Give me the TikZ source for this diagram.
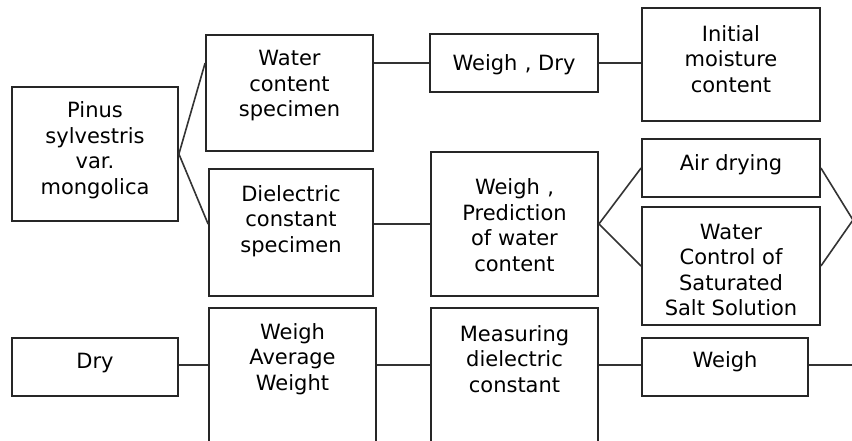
\documentclass[tikz,border=0pt]{standalone}
\usepackage{fontspec}
\setmainfont{DejaVu Sans}
\begin{document}
\begin{tikzpicture}[x=1pt,y=-1pt,
  box/.style={draw=black!85,line width=1.8pt,inner sep=0pt,fill=none},
  txt/.style={align=center,inner sep=0pt,font=\fontsize{21}{25.5}\selectfont},
  link/.style={draw=black!80,line width=1.6pt}]
\clip (0,0) rectangle (852,441);
\fill[white] (0,0) rectangle (852,441);
% boxes
\node[box,minimum width=166pt,minimum height=134pt] (pinus) at (95,154) {};
\node[box,minimum width=167pt,minimum height=116pt] (wcs) at (289.5,93) {};
\node[box,minimum width=164pt,minimum height=127pt] (dcs) at (291,232.5) {};
\node[box,minimum width=168pt,minimum height=58pt] (wd) at (514,63) {};
\node[box,minimum width=178pt,minimum height=113pt] (imc) at (731,64.5) {};
\node[box,minimum width=167pt,minimum height=144pt] (wp) at (514.5,224) {};
\node[box,minimum width=178pt,minimum height=58pt] (air) at (731,168) {};
\node[box,minimum width=178pt,minimum height=118pt] (wcss) at (731,266) {};
\node[box,minimum width=166pt,minimum height=58pt] (dry) at (95,367) {};
\node[box,minimum width=167pt,minimum height=152pt] (wavg) at (292.5,384) {};
\node[box,minimum width=167pt,minimum height=152pt] (meas) at (514.5,384) {};
\node[box,minimum width=166pt,minimum height=58pt] (weigh) at (725,367) {};
% texts
\node[txt] (t1) at (95,150) {Pinus\\sylvestris\\var.\\mongolica};
\node[txt] (t2) at (289.5,86) {Water\\content\\specimen};
\node[txt] (t3) at (291,221) {Dielectric\\constant\\specimen};
\node[txt] (t4) at (514,65) {Weigh\hspace{0.35em}, Dry};
\node[txt] (t5) at (731,59) {Initial\\moisture\\content};
\node[txt] (t6) at (514.5,225) {Weigh\hspace{0.35em},\\Prediction\\of water\\content};
\node[txt] (t7) at (731,165) {Air drying};
\node[txt] (t8) at (731,270) {Water\\Control of\\Saturated\\Salt Solution};
\node[txt] (t9) at (95,363) {Dry};
\node[txt] (t10) at (292.5,359) {Weigh\\Average\\Weight};
\node[txt] (t11) at (514.5,359) {Measuring\\dielectric\\constant};
\node[txt] (t12) at (725,362) {Weigh};
% free ends
\coordinate (r1) at (853,220);
\coordinate (r2) at (860,365);
% connectors
\draw[link] (pinus.east) -- (wcs.west |- wd.west);
\draw[link] (pinus.east) -- (dcs.west |- wp.west);
\draw[link] (wcs.east |- wd.west) -- (wd.west);
\draw[link] (wd.east) -- (wd.east -| imc.west);
\draw[link] (dcs.east |- wp.west) -- (wp.west);
\draw[link] (wp.east) -- (air.west);
\draw[link] (wp.east) -- (wcss.west);
\draw[link] (air.east) -- (r1);
\draw[link] (wcss.east) -- (r1);
\draw[link] (dry.east |- r2) -- (wavg.west |- r2);
\draw[link] (wavg.east |- r2) -- (meas.west |- r2);
\draw[link] (meas.east |- r2) -- (weigh.west |- r2);
\draw[link] (weigh.east |- r2) -- (r2);
\end{tikzpicture}
\end{document}
